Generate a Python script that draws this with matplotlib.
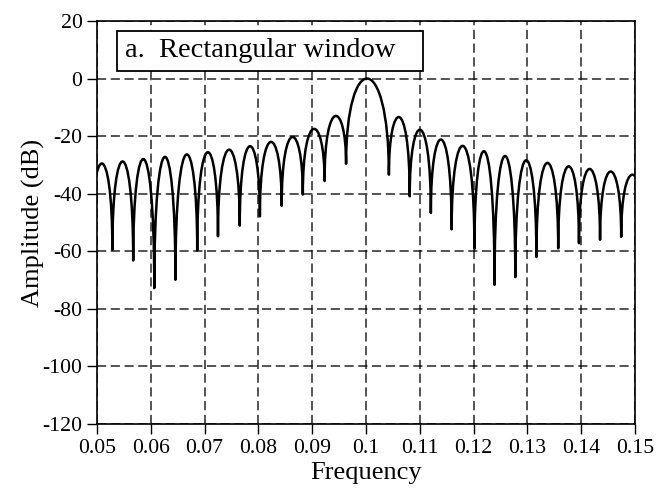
import matplotlib
matplotlib.use("Agg")
import matplotlib.pyplot as plt
from matplotlib.path import Path
from matplotlib.patches import PathPatch, Rectangle

# nulls of the spectrum (frequency, dB);
# first and last entries sit just outside the plotted range
null_freq = [0.04896, 0.05286, 0.05673, 0.06065, 0.06458, 0.06863, 0.07249,
             0.07654, 0.08028, 0.08433, 0.08826, 0.09230, 0.09630, 0.10426,
             0.10813, 0.11206, 0.11592, 0.12016, 0.12389, 0.12776, 0.13168,
             0.13573, 0.13959, 0.14351, 0.14744, 0.15150]
null_db = [-58.0, -59.5, -63.2, -72.8, -69.9, -59.7, -54.8, -51.1, -47.9,
           -44.2, -40.3, -35.6, -29.6, -33.4, -40.9, -46.7, -52.4, -59.2,
           -71.7, -69.0, -62.0, -59.0, -57.2, -56.0, -55.0, -52.0]
# peak of each lobe lying between two consecutive nulls
lobe_peak_db = [-29.5, -28.8, -28.0, -27.2, -26.4, -25.6, -24.7, -23.5,
                -22.0, -20.3, -17.5, -13.0,
                0.0,
                -13.4, -17.8, -21.2, -23.4, -25.3, -26.9, -28.4, -29.3,
                -30.5, -31.4, -32.3, -33.4]

x_ticks = [0.05, 0.06, 0.07, 0.08, 0.09, 0.1, 0.11, 0.12, 0.13, 0.14, 0.15]
x_tick_labels = ["0.05", "0.06", "0.07", "0.08", "0.09", "0.1", "0.11",
                 "0.12", "0.13", "0.14", "0.15"]
y_ticks = [20, 0, -20, -40, -60, -80, -100, -120]

plt.rcParams["font.family"] = ["Liberation Serif", "DejaVu Serif"]
plt.rcParams["axes.unicode_minus"] = False

fig = plt.figure(figsize=(6.58, 4.96), dpi=100)
ax = fig.add_axes([0.1474, 0.1452, 0.8176, 0.8125])

# each lobe as a cubic bezier: vertical at both nulls, rounded top
verts = [(null_freq[0], null_db[0])]
codes = [Path.MOVETO]
for i, peak in enumerate(lobe_peak_db):
    x0, y0 = null_freq[i], null_db[i]
    x1, y1 = null_freq[i + 1], null_db[i + 1]
    verts += [(x0, peak + (peak - y0) / 3), (x1, peak + (peak - y1) / 3), (x1, y1)]
    codes += [Path.CURVE4] * 3
curve = PathPatch(Path(verts, codes), fill=False, edgecolor="black",
                  linewidth=1.8, zorder=3, joinstyle="round")
ax.add_patch(curve)

ax.set_xlim(0.05, 0.15)
ax.set_ylim(-120, 20)
ax.set_xticks(x_ticks)
ax.set_xticklabels(x_tick_labels)
ax.set_yticks(y_ticks)
ax.grid(True, color="black", linestyle=(0, (6, 3)), linewidth=1.1, alpha=0.85)
ax.tick_params(direction="out", length=7, width=1.0, labelsize=15.7, pad=3.5)
for s in ax.spines.values():
    s.set_linewidth(1.2)

ax.set_xlabel("Frequency", fontsize=19, labelpad=3)
ax.set_ylabel("Amplitude (dB)", fontsize=19, labelpad=-2)

# label box in the top left corner
ax.add_patch(Rectangle((0.037, 0.876), 0.569, 0.099, transform=ax.transAxes,
                       facecolor="white", edgecolor="black", linewidth=1.3,
                       zorder=4))
ax.text(0.052, 0.9256, "a.  Rectangular window", transform=ax.transAxes,
        fontsize=20.5, va="center", ha="left", zorder=5)

fig.savefig("out.png", dpi=100)
